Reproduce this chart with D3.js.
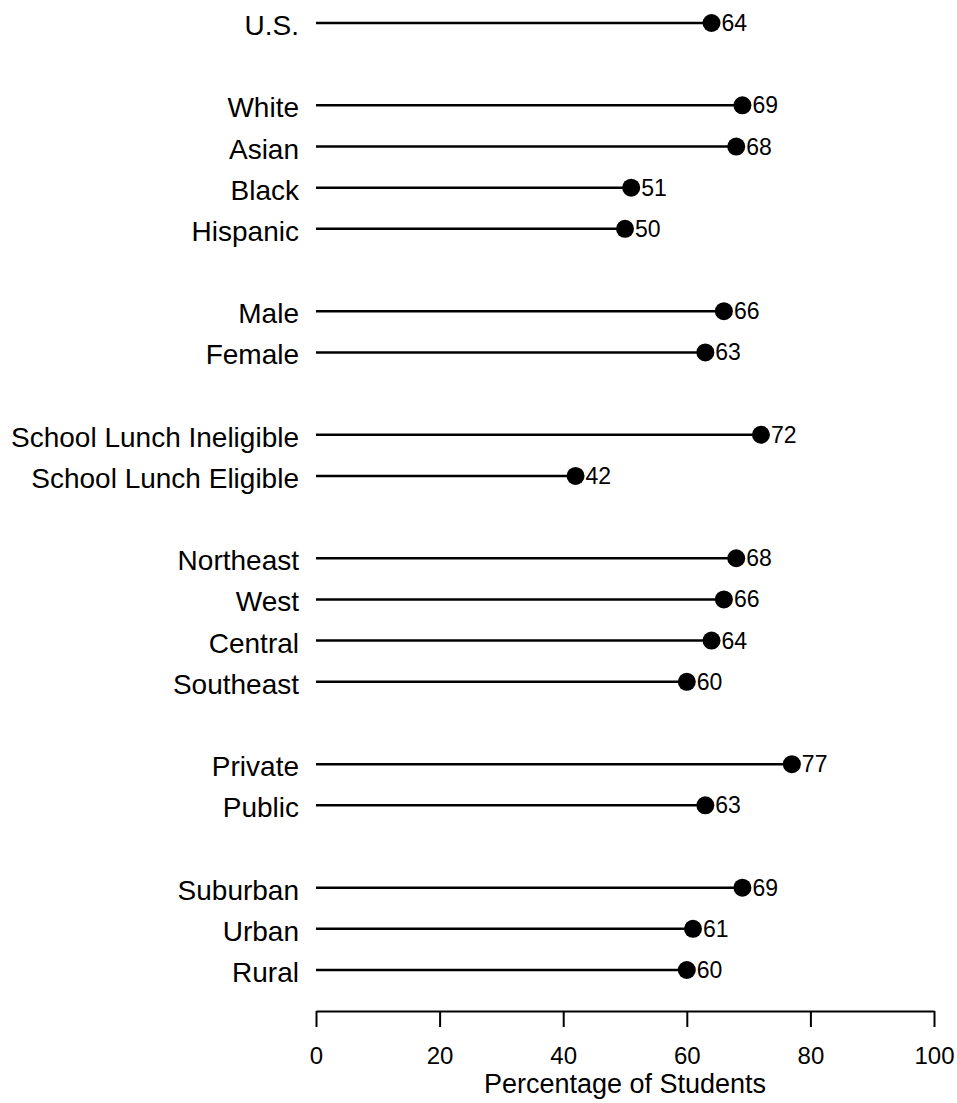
<!DOCTYPE html>
<html>
<head>
<meta charset="utf-8">
<script src="https://cdn.jsdelivr.net/npm/d3@7"></script>
<style>
  html, body { margin: 0; padding: 0; background: #fff; }
  svg { display: block; }
  text { font-family: "Liberation Sans", Arial, Helvetica, sans-serif; fill: #000; }
</style>
</head>
<body>
<svg id="chart" width="957" height="1103"></svg>
<script>
// ---- data ----
const categories = ["U.S.", "White", "Asian", "Black", "Hispanic", "Male", "Female",
  "School Lunch Ineligible", "School Lunch Eligible",
  "Northeast", "West", "Central", "Southeast",
  "Private", "Public", "Suburban", "Urban", "Rural"];
const values = [64, 69, 68, 51, 50, 66, 63, 72, 42, 68, 66, 64, 60, 77, 63, 69, 61, 60];
const groupOf = [0, 1, 1, 1, 1, 2, 2, 3, 3, 4, 4, 4, 4, 5, 5, 6, 6, 6];
const xTicks = [0, 20, 40, 60, 80, 100];
const xTitle = "Percentage of Students";

// ---- build slot list with gaps between groups ----
const slots = [];
categories.forEach((c, i) => {
  if (i > 0 && groupOf[i] !== groupOf[i - 1]) slots.push("__gap" + i);
  slots.push(c);
});

const svg = d3.select("#chart");
const x = d3.scaleLinear().domain([0, 100]).range([316, 934]);
const y = d3.scalePoint().domain(slots).range([23, 970]);

const rows = categories.map((c, i) => ({ c, v: values[i] }));

// lines
svg.append("g").selectAll("line").data(rows).join("line")
  .attr("x1", x(0)).attr("x2", d => x(d.v))
  .attr("y1", d => y(d.c)).attr("y2", d => y(d.c))
  .attr("stroke", "#000").attr("stroke-width", 2.5);

// dots
svg.append("g").selectAll("circle").data(rows).join("circle")
  .attr("cx", d => x(d.v)).attr("cy", d => y(d.c)).attr("r", 9)
  .attr("fill", "#000");

// value labels
svg.append("g").selectAll("text").data(rows).join("text")
  .attr("x", d => x(d.v) + 10).attr("y", d => y(d.c) + 8)
  .attr("font-size", 23)
  .text(d => d.v);

// category labels
svg.append("g").selectAll("text").data(rows).join("text")
  .attr("x", 299).attr("y", d => y(d.c) + 12)
  .attr("text-anchor", "end")
  .attr("font-size", 28)
  .text(d => d.c);

// axis
const axis = d3.axisBottom(x).tickValues(xTicks).tickSize(16).tickSizeOuter(0).tickPadding(20);
const gAxis = svg.append("g").attr("transform", "translate(0,1011)").call(axis);
gAxis.select(".domain").attr("stroke", "#000").attr("stroke-width", 2);
gAxis.selectAll(".tick line").attr("stroke", "#000").attr("stroke-width", 2);
gAxis.selectAll(".tick text").attr("font-size", 24)
  .attr("font-family", "'Liberation Sans', Arial, sans-serif").attr("fill", "#000");

svg.append("text")
  .attr("x", (x(0) + x(100)) / 2).attr("y", 1093)
  .attr("text-anchor", "middle").attr("font-size", 27)
  .text(xTitle);
</script>
</body>
</html>
